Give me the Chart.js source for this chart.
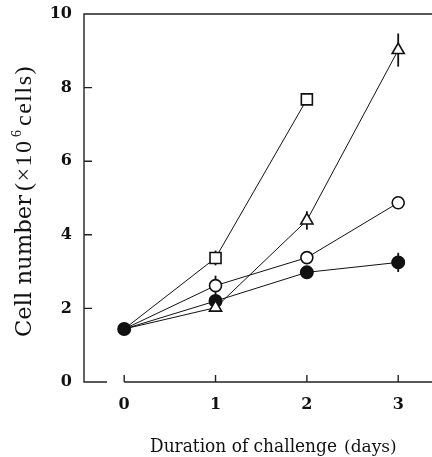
<!DOCTYPE html>
<html>
<head>
<meta charset="utf-8">
<script src="https://cdn.jsdelivr.net/npm/chart.js@4/dist/chart.umd.min.js"></script>
<style>
  html, body { margin: 0; padding: 0; background: #fff; overflow: hidden; }
  canvas { display: block; }
</style>
</head>
<body>
<canvas id="chart" width="432" height="457"></canvas>
<script>
// data (cell number x10^6 by day)
const days = [0, 1, 2, 3];
const openSquare = [1.44, 3.37, 7.68, null];
const openSquareErr = [0, 0.2, 0, 0];
const openTriangle = [1.44, 2.02, 4.39, 9.02];
const openTriangleErr = [0, 0, 0.25, 0.45];
const openCircle = [1.44, 2.62, 3.38, 4.87];
const openCircleErr = [0, 0.27, 0, 0];
const filledCircle = [1.44, 2.2, 2.98, 3.25];
const filledCircleErr = [0, 0, 0, 0.26];
const yTicks = [0, 2, 4, 6, 8, 10];

function toPoints(vals) {
  const pts = [];
  vals.forEach((v, i) => {
    if (v !== null) pts.push({ x: days[i], y: v });
  });
  return pts;
}

// day 0 is shared, only the filled circle marks it
function makeSet(vals, errs, style, radius, fill, markStart) {
  const pts = toPoints(vals);
  return {
    data: pts,
    errs: errs,
    showLine: true,
    borderColor: "#111",
    borderWidth: 1,
    pointStyle: style,
    pointRadius: pts.map((p) => (p.x === 0 && !markStart ? 0 : radius)),
    pointBorderWidth: 1.6,
    pointBorderColor: "#111",
    pointBackgroundColor: fill,
  };
}

// error bars, axis frame and titles
const extras = {
  id: "extras",
  beforeDatasetsDraw(chart) {
    const ctx = chart.ctx;
    const xs = chart.scales.x;
    const ys = chart.scales.y;
    const a = chart.chartArea;
    ctx.save();
    ctx.strokeStyle = "#222";
    ctx.lineWidth = 1.4;
    ctx.beginPath();
    // top and left
    ctx.moveTo(a.right, a.top);
    ctx.lineTo(a.left, a.top);
    ctx.lineTo(a.left, a.bottom);
    ctx.lineTo(a.left + 23, a.bottom);
    // offset x axis
    ctx.moveTo(xs.getPixelForValue(0), a.bottom);
    ctx.lineTo(a.right, a.bottom);
    days.forEach((d) => {
      const px = xs.getPixelForValue(d);
      ctx.moveTo(px, a.bottom);
      ctx.lineTo(px, a.bottom - 7);
    });
    yTicks.slice(1, -1).forEach((t) => {
      const py = ys.getPixelForValue(t);
      ctx.moveTo(a.left, py);
      ctx.lineTo(a.left + 8, py);
    });
    ctx.stroke();

    // error bars
    ctx.lineWidth = 1.8;
    ctx.strokeStyle = "#111";
    chart.data.datasets.forEach((ds) => {
      ds.data.forEach((p) => {
        const e = ds.errs[days.indexOf(p.x)];
        if (!e) return;
        const px = xs.getPixelForValue(p.x);
        ctx.beginPath();
        ctx.moveTo(px, ys.getPixelForValue(p.y - e));
        ctx.lineTo(px, ys.getPixelForValue(p.y + e));
        ctx.stroke();
      });
    });
    ctx.restore();
  },
  afterDraw(chart) {
    const ctx = chart.ctx;
    ctx.save();
    ctx.fillStyle = "#111";
    ctx.textBaseline = "alphabetic";
    // y title, rotated, read bottom to top from y=337
    ctx.rotate(-Math.PI / 2);
    ctx.font = "23px 'DejaVu Serif'";
    ctx.fillText("Cell number", -337, 31, 142);
    ctx.letterSpacing = "1.5px";
    ctx.font = "24px 'Liberation Serif'";
    ctx.fillText("(\u00d710", -191, 31);
    ctx.font = "14px 'Liberation Serif'";
    ctx.fillText("6", -137, 21);
    ctx.font = "24px 'Liberation Serif'";
    ctx.fillText("cells)", -126, 31);
    ctx.restore();

    // x title
    ctx.save();
    ctx.fillStyle = "#111";
    ctx.font = "19px 'DejaVu Serif'";
    ctx.fillText("Duration of challenge", 150, 452, 187);
    ctx.font = "17px 'DejaVu Serif'";
    ctx.fillText("(days)", 344, 452, 59);
    ctx.restore();
  },
};

const ctx = document.getElementById("chart").getContext("2d");
const myChart = new Chart(ctx, {
  type: "scatter",
  data: {
    datasets: [
      makeSet(openSquare, openSquareErr, "rect", 7.8, "#fff", false),
      makeSet(openTriangle, openTriangleErr, "triangle", 7, "#fff", false),
      makeSet(openCircle, openCircleErr, "circle", 6, "#fff", false),
      makeSet(filledCircle, filledCircleErr, "circle", 6.2, "#111", true),
    ],
  },
  options: {
    responsive: false,
    animation: false,
    layout: {
      autoPadding: false,
      padding: { top: 14, right: 0, left: 0, bottom: 0 },
    },
    plugins: {
      legend: { display: false },
      tooltip: { enabled: false },
    },
    scales: {
      x: {
        type: "linear",
        min: -0.44,
        max: 3.37,
        afterFit: (s) => {
          s.height = 75;
          s.paddingLeft = 0;
          s.paddingRight = 0;
        },
        afterBuildTicks: (s) => { s.ticks = days.map((d) => ({ value: d })); },
        grid: { display: false, drawTicks: false },
        border: { display: false },
        ticks: {
          padding: 13,
          color: "#111",
          font: { family: "DejaVu Serif", size: 16, weight: "bold" },
        },
      },
      y: {
        min: 0,
        max: 10,
        afterFit: (s) => {
          s.width = 84;
          s.paddingTop = 0;
          s.paddingBottom = 0;
        },
        afterBuildTicks: (s) => { s.ticks = yTicks.map((t) => ({ value: t })); },
        grid: { display: false, drawTicks: false },
        border: { display: false },
        ticks: {
          padding: 12,
          color: "#111",
          font: { family: "DejaVu Serif", size: 16, weight: "bold" },
        },
      },
    },
  },
  plugins: [extras],
});
</script>
</body>
</html>
